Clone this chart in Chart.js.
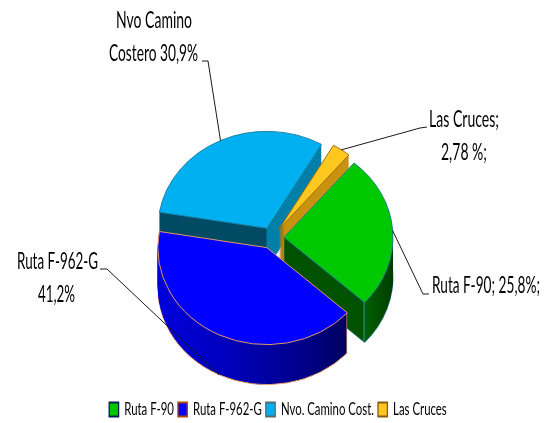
<!DOCTYPE html>
<html>
<head>
<meta charset="utf-8">
<style>
    html, body { margin: 0; padding: 0; background: #fff; }
    #wrap { width: 552px; height: 423px; }
</style>
</head>
<body>
<div id="wrap"><canvas id="pieChart"></canvas></div>
<script src="https://cdn.jsdelivr.net/npm/chart.js@4"></script>
<script>
// Data
const categories = ["Ruta F-90", "Ruta F-962-G", "Nvo. Camino Cost.", "Las Cruces"];
const shares = [25.8, 41.2, 30.9, 2.78];
const calloutText = [
    ["Ruta F-90; 25,8%;"],
    ["Ruta F-962-G", "41,2%"],
    ["Nvo Camino", "Costero 30,9%"],
    ["Las Cruces;", "2,78 %;"],
];

// Look of the fake 3D pie
const topColors = ["#00c800", "#0000ff", "#00b0f0", "#ffc81e"];
const edgeColors = ["#2a7f8f", "#f0a060", "#1f7f9f", "#9a6a10"];
const legendEdges = ["#00205a", "#b04a10", "#5a6a72", "#8a5a10"];
const SQUASH = 0.89;
const DEPTH = 40;
const EXPLODE = 12;
const LABEL_FONT = '23px Lato, "Open Sans", sans-serif';
const LEGEND_SQUEEZE = 0.67;
const LEGEND_SHIFT = 6;
const LEGEND_DROP = 5;

// [x, color] stops along the canvas x axis for each slice's side walls
const wallStops = [
    [[284, "#005200"], [363, "#005200"], [364, "#3a8a9a"], [365, "#006000"], [393, "#003c00"]],
    [[157, "#0000dc"], [220, "#0000c0"], [300, "#00008c"], [346, "#000060"], [347, "#f0a060"]],
    [[158, "#004a63"], [266, "#004a63"], [267, "#0080a8"], [322, "#0080a8"]],
    [[276, "#a87a10"], [283, "#a87a10"], [284, "#c8920f"], [349, "#c8920f"]],
];

// Where the callout texts sit: x/y per line, max width, and leader path start
const callouts = [
    { lines: [[432, 293, 108]], leader: [[429, 294], [423, 294]], floor: 0 },
    { lines: [[17, 269, 81], [38, 302, 37]], leader: [[100, 269], [107, 269]], floor: DEPTH },
    { lines: [[116, 28, 76], [109, 61, 89]], leader: [[202, 61], [208, 61]], floor: 0 },
    { lines: [[429, 127, 70], [441, 160, 46]], leader: [[427, 127], [420, 128]], floor: 0 },
];

function wallFill(ctx, stops, dx) {
    const x0 = stops[0][0];
    const x1 = stops[stops.length - 1][0];
    const grad = ctx.createLinearGradient(x0 - dx, 0, x1 - dx, 0);
    stops.forEach(([x, color]) => grad.addColorStop((x - x0) / (x1 - x0), color));
    return grad;
}

function explodeOffset(arc) {
    const mid = (arc.startAngle + arc.endAngle) / 2;
    return { dx: Math.cos(mid) * EXPLODE, dy: Math.sin(mid) * EXPLODE, mid };
}

// Paints one arc with other colours, moved down by "drop" pixels
function paintArc(ctx, arc, fill, edge, width, drop) {
    const { dx, dy } = explodeOffset(arc);
    const ghost = Object.create(arc);
    ghost.options = Object.assign({}, arc.options, {
        backgroundColor: fill,
        borderColor: edge,
        borderWidth: width,
    });
    ctx.save();
    ctx.translate(dx, drop);
    ctx.translate(0, arc.y);
    ctx.scale(1, SQUASH);
    ctx.translate(0, dy - arc.y);
    ghost.draw(ctx);
    ctx.restore();
}

const pie3d = {
    id: "pie3d",
    afterLayout(chart) {
        // Squeeze the legend sideways like the stretched original
        const legend = chart.legend;
        if (legend.squeezed) return;
        const plainDraw = legend.draw;
        legend.draw = function () {
            const ctx = chart.ctx;
            const mid = (this.left + this.right) / 2;
            ctx.save();
            ctx.translate(mid + LEGEND_SHIFT, LEGEND_DROP);
            ctx.scale(LEGEND_SQUEEZE, 1);
            ctx.translate(-mid, 0);
            plainDraw.call(this);
            ctx.restore();
        };
        legend.squeezed = true;
    },
    beforeDatasetDraw(chart) {
        const ctx = chart.ctx;
        const arcs = chart.getDatasetMeta(0).data;
        // back to front
        [2, 3, 0, 1].forEach((i) => {
            const arc = arcs[i];
            const fill = wallFill(ctx, wallStops[i], explodeOffset(arc).dx);
            paintArc(ctx, arc, fill, edgeColors[i], 1, DEPTH);
            for (let d = DEPTH - 1; d > 0; d--) {
                paintArc(ctx, arc, fill, fill, 0, d);
            }
            paintArc(ctx, arc, topColors[i], edgeColors[i], 1, 0);
        });
        return false;
    },
    afterDatasetsDraw(chart) {
        const ctx = chart.ctx;
        const arcs = chart.getDatasetMeta(0).data;
        ctx.save();
        ctx.strokeStyle = "#1a1a1a";
        ctx.lineWidth = 1;
        ctx.fillStyle = "#000";
        ctx.font = LABEL_FONT;
        ctx.textAlign = "left";
        ctx.textBaseline = "alphabetic";
        callouts.forEach((c, i) => {
            const arc = arcs[i];
            const { dx, dy, mid } = explodeOffset(arc);
            const endX = arc.x + dx + Math.cos(mid) * arc.outerRadius;
            const endY = arc.y + SQUASH * (dy + Math.sin(mid) * arc.outerRadius) + c.floor;
            ctx.beginPath();
            c.leader.forEach(([x, y], k) => (k ? ctx.lineTo(x, y) : ctx.moveTo(x, y)));
            ctx.lineTo(endX, endY);
            ctx.stroke();
            c.lines.forEach(([x, y, w], k) => ctx.fillText(calloutText[i][k], x, y, w));
        });
        ctx.restore();
    },
};

const pieCtx = document.getElementById("pieChart").getContext("2d");
const pieChart = new Chart(pieCtx, {
    type: "pie",
    data: {
        labels: categories,
        datasets: [
            {
                data: shares,
                backgroundColor: topColors,
                borderColor: edgeColors,
                borderWidth: 1,
                radius: 109,
            },
        ],
    },
    options: {
        responsive: true,
        maintainAspectRatio: false,
        animation: false,
        rotation: 40,
        layout: {
            padding: { top: 86, right: 8 },
        },
        plugins: {
            tooltip: { enabled: false },
            legend: {
                position: "bottom",
                labels: {
                    boxWidth: 14,
                    boxHeight: 14,
                    padding: 6,
                    color: "#111",
                    font: { family: "Lato, sans-serif", size: 17 },
                    generateLabels() {
                        return categories.map((name, i) => ({
                            text: name,
                            fillStyle: topColors[i],
                            strokeStyle: legendEdges[i],
                            lineWidth: 2,
                            index: i,
                        }));
                    },
                },
            },
        },
    },
    plugins: [pie3d],
});
</script>
</body>
</html>
